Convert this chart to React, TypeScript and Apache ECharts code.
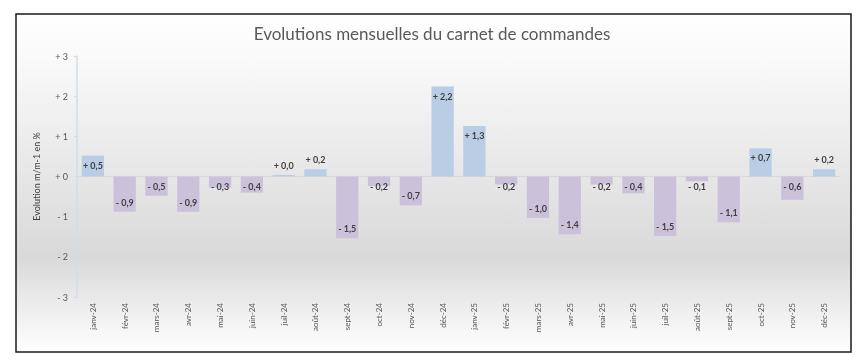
import React, { useEffect, useRef } from "react";
import * as echarts from "echarts";

const categories = [
  "janv-24", "févr-24", "mars-24", "avr-24", "mai-24", "juin-24", "juil-24", "août-24",
  "sept-24", "oct-24", "nov-24", "déc-24", "janv-25", "févr-25", "mars-25", "avr-25",
  "mai-25", "juin-25", "juil-25", "août-25", "sept-25", "oct-25", "nov-25", "déc-25",
];
const values = [
  0.52, -0.88, -0.48, -0.88, -0.28, -0.4, 0.04, 0.18,
  -1.54, -0.24, -0.72, 2.24, 1.26, -0.2, -1.03, -1.44,
  -0.2, -0.42, -1.48, -0.12, -1.14, 0.7, -0.58, 0.18,
];
const yTicks = [-3, -2, -1, 0, 1, 2, 3];
const titleText = "Evolutions mensuelles du carnet de commandes";
const yAxisName = "Evolution m/m-1 en %";

const POS = "#b9cde5";
const NEG = "#ccc1da";

function fmt(v: number): string {
  const s = Math.abs(v).toFixed(1).replace(".", ",");
  return (v < 0 ? "- " : "+ ") + s;
}

export default function App() {
  const ref = useRef<HTMLDivElement>(null);
  useEffect(() => {
    if (!ref.current) return;
    const chart = echarts.init(ref.current, null, { renderer: "svg" });
    const data = values.map((v) => {
      let position: string;
      if (v >= 0.4) position = "insideTop";
      else if (v >= 0) position = "top";
      else if (v <= -0.6) position = "insideBottom";
      else position = "insideTop";
      return {
        value: v,
        itemStyle: { color: v >= 0 ? POS : NEG },
        label: { position },
      };
    });
    chart.setOption({
      animation: false,
      textStyle: { fontFamily: "Lato" },
      graphic: [
        {
          type: "rect",
          z: -10,
          shape: { x: 16, y: 14, width: 835, height: 338 },
          style: {
            fill: new echarts.graphic.LinearGradient(0, 0, 0, 1, [
              { offset: 0, color: "#ffffff" },
              { offset: 0.12, color: "#fafafa" },
              { offset: 0.72, color: "#d9d9d9" },
              { offset: 1, color: "#ffffff" },
            ]),
            stroke: "#1a1a1a",
            lineWidth: 1.5,
          },
          silent: true,
        },
      ],
      title: {
        text: titleText,
        left: "center",
        top: 20,
        textStyle: { fontFamily: "Lato", fontSize: 17, fontWeight: "normal", color: "#595959" },
      },
      grid: { left: 77, right: 24, top: 56, bottom: 66, containLabel: false },
      xAxis: [
        {
          type: "category",
          data: categories,
          position: "bottom",
          axisLine: { show: false, onZero: false },
          axisTick: { show: false },
          axisLabel: {
            rotate: 90,
            fontSize: 8,
            color: "#595959",
            margin: 6,
            interval: 0,
            fontFamily: "Lato",
          },
        },
        {
          type: "category",
          data: categories,
          position: "bottom",
          axisLine: { show: true, onZero: true, lineStyle: { color: "#d9d9d9", width: 1 } },
          axisTick: { show: false },
          axisLabel: { show: false },
        },
      ],
      yAxis: {
        type: "value",
        min: yTicks[0],
        max: yTicks[yTicks.length - 1],
        interval: 1,
        name: yAxisName,
        nameLocation: "middle",
        nameGap: 36,
        nameRotate: 90,
        nameTextStyle: { fontSize: 9, color: "#404040", fontFamily: "Lato" },
        axisLine: { show: true, lineStyle: { color: "#d3dde9", width: 1.5 } },
        axisTick: { show: true, length: 3, lineStyle: { color: "#d3dde9" } },
        splitLine: { show: false },
        axisLabel: {
          fontSize: 9,
          color: "#595959",
          margin: 9,
          formatter: (v: number) => (v < 0 ? "- " + Math.abs(v) : "+ " + v),
        },
      },
      series: [
        {
          type: "bar",
          data,
          barWidth: "70%",
          xAxisIndex: 0,
          label: {
            show: true,
            formatter: (p: any) => fmt(p.value),
            fontSize: 9,
            fontWeight: "bold",
            color: "#404040",
            fontFamily: "Lato",
          },
        },
      ],
    });
    return () => chart.dispose();
  }, []);
  return (
    <div
      ref={ref}
      style={{ position: "fixed", left: 0, top: 0, width: 864, height: 363 }}
    />
  );
}
